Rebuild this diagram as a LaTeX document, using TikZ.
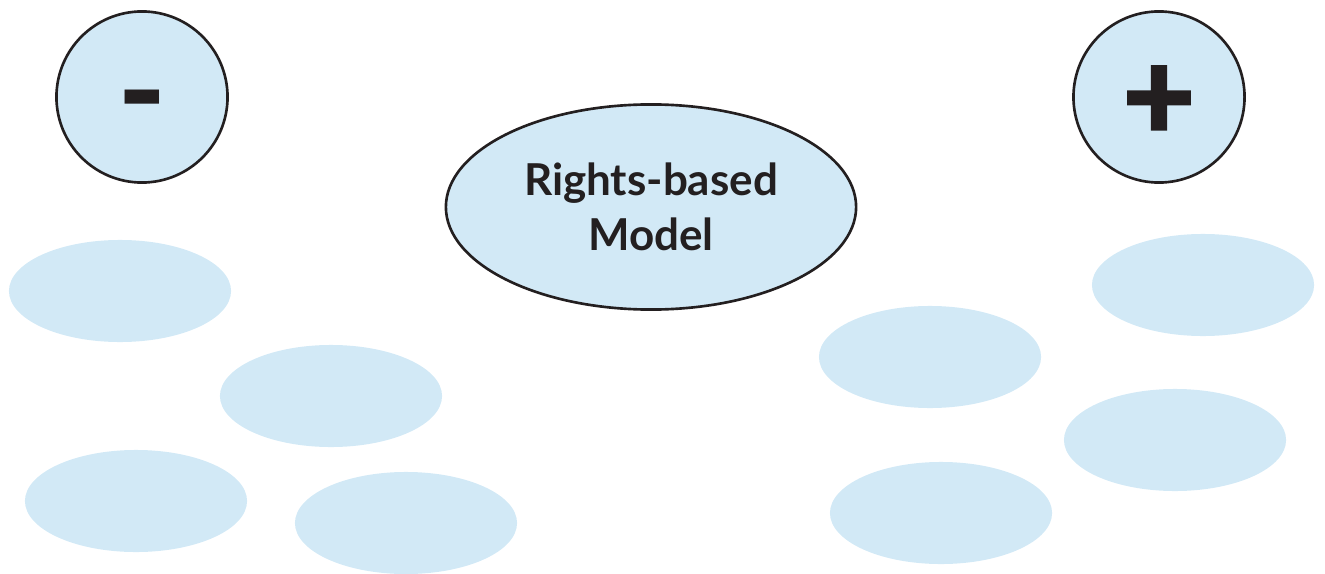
\documentclass[tikz,border=0pt]{standalone}
\usepackage{fontspec}
\setmainfont{Lato}
\newfontfamily\heavysign[FakeBold=3]{Lato Bold}
\usetikzlibrary{shapes.geometric}
\definecolor{paleblue}{HTML}{D2E9F6}
\definecolor{ink}{HTML}{231F20}
\begin{document}
\begin{tikzpicture}[x=0.01cm,y=-0.01cm,
  blob/.style={ellipse,fill=paleblue,minimum width=2.22cm,minimum height=1.02cm,inner sep=0pt},
  sign/.style={circle,draw=ink,line width=0.75pt,fill=paleblue,minimum size=1.71cm,inner sep=0pt},
  signtext/.style={text=ink,inner sep=0pt},
  title/.style={ellipse,draw=ink,line width=0.75pt,fill=paleblue,minimum width=4.1cm,minimum height=2.05cm,inner sep=0pt,align=center,text=ink,font=\fontsize{12.5}{15.6}\selectfont\bfseries}]
\useasboundingbox (0,0) rectangle (1325,573);
\node[sign] (minus) at (142,97) {};
\node[sign] (plus) at (1159,97) {};
\node[title] (model) at (651,207) {Rights-based\\Model};
\node[signtext,yshift=-0.175cm] (mtext) at (minus) {\fontsize{30}{30}\selectfont\bfseries\scalebox{1.26}[1.3]{-}};
\node[signtext,yshift=-0.06cm] (ptext) at (plus) {\fontsize{35}{35}\selectfont\heavysign +};
\node[blob] (b1) at (120,291) {};
\node[blob] (b2) at (331,396) {};
\node[blob] (b3) at (136,501) {};
\node[blob] (b4) at (406,523) {};
\node[blob] (b5) at (930,357) {};
\node[blob] (b6) at (1203,285) {};
\node[blob] (b7) at (1175,440) {};
\node[blob] (b8) at (941,513) {};
\end{tikzpicture}
\end{document}
